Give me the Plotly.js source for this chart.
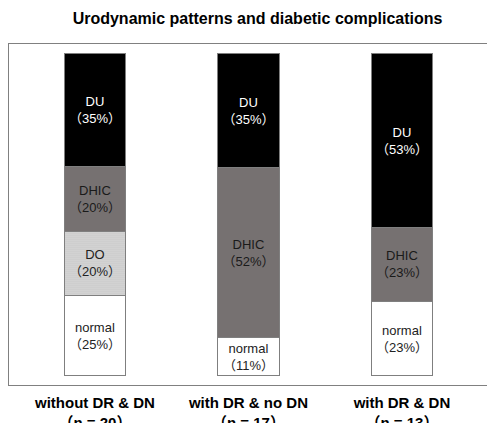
<!DOCTYPE html>
<html>
<head>
<meta charset="utf-8">
<script src="https://cdn.plot.ly/plotly-3.0.1.min.js"></script>
<style>html,body{margin:0;padding:0;background:#fff;}#chart{width:487px;height:423px;}</style>
</head>
<body>
<div id="chart"></div>
<script>
const categories = ['without DR & DN<br>（n = 20）', 'with DR & no DN<br>（n = 17）', 'with DR & DN<br>（n = 13）'];
const normalPct = [25, 11.8, 23.1];
const doPct = [20, null, null];
const dhicPct = [20, 52.9, 23.1];
const duPct = [35, 35.3, 53.8];
const normalLabels = ['25%', '11%', '23%'];
const doLabels = ['20%', '', ''];
const dhicLabels = ['20%', '52%', '23%'];
const duLabels = ['35%', '35%', '53%'];

function mkText(name, labels) {
  return labels.map(l => l ? name + '<br>（' + l + '）' : '');
}

const FONT = 'Liberation Sans, Arial, Noto Sans CJK SC, sans-serif';
const common = {
  type: 'bar', x: categories, width: 0.40,
  textposition: 'inside', insidetextanchor: 'middle', textangle: 0,
  constraintext: 'none', hoverinfo: 'skip', showlegend: false
};

const traces = [
  Object.assign({}, common, {
    name: 'normal', y: normalPct, text: mkText('normal', normalLabels),
    marker: {color: '#ffffff', line: {color: '#7f7f7f', width: 1}},
    insidetextfont: {color: '#222222', size: 13, family: FONT}
  }),
  Object.assign({}, common, {
    name: 'DO', y: doPct, text: mkText('DO', doLabels),
    marker: {color: '#d6d6d6', line: {color: '#7f7f7f', width: 1},
      pattern: {shape: '.', bgcolor: '#dadada', fgcolor: '#b0b0b0', size: 2, solidity: 0.3}},
    insidetextfont: {color: '#222222', size: 13, family: FONT}
  }),
  Object.assign({}, common, {
    name: 'DHIC', y: dhicPct, text: mkText('DHIC', dhicLabels),
    marker: {color: '#767171', line: {color: '#7f7f7f', width: 1}},
    insidetextfont: {color: '#1a1a1a', size: 13, family: FONT}
  }),
  Object.assign({}, common, {
    name: 'DU', y: duPct, text: mkText('DU', duLabels),
    marker: {color: '#000000', line: {color: '#7f7f7f', width: 1}},
    insidetextfont: {color: '#ffffff', size: 13, family: FONT}
  })
];

const layout = {
  width: 487, height: 423,
  margin: {l: 9, r: 0, t: 44, b: 38, pad: 0},
  paper_bgcolor: '#ffffff', plot_bgcolor: '#ffffff',
  barmode: 'stack',
  uniformtext: {minsize: 13, mode: 'show'},
  font: {family: FONT, color: '#000000'},
  title: {
    text: 'Urodynamic patterns and diabetic complications',
    font: {family: FONT, size: 16, color: '#000000', weight: 'bold'},
    x: 0.52, xanchor: 'center', xref: 'paper',
    y: 1 - 18 / 423, yref: 'container', yanchor: 'middle'
  },
  xaxis: {
    type: 'category', range: [-0.56, 2.554],
    showline: true, linecolor: '#808080', linewidth: 1, mirror: true,
    ticks: '', showgrid: false, zeroline: false,
    ticklabelstandoff: 4,
    tickfont: {family: FONT, size: 15, color: '#000000', weight: 'bold'},
    fixedrange: true
  },
  yaxis: {
    range: [-2.8, 103.1],
    showline: true, linecolor: '#808080', linewidth: 1, mirror: false,
    ticks: '', showticklabels: false, showgrid: false, zeroline: false,
    fixedrange: true
  }
};

Plotly.newPlot('chart', traces, layout, {displayModeBar: false, staticPlot: true});
</script>
</body>
</html>
